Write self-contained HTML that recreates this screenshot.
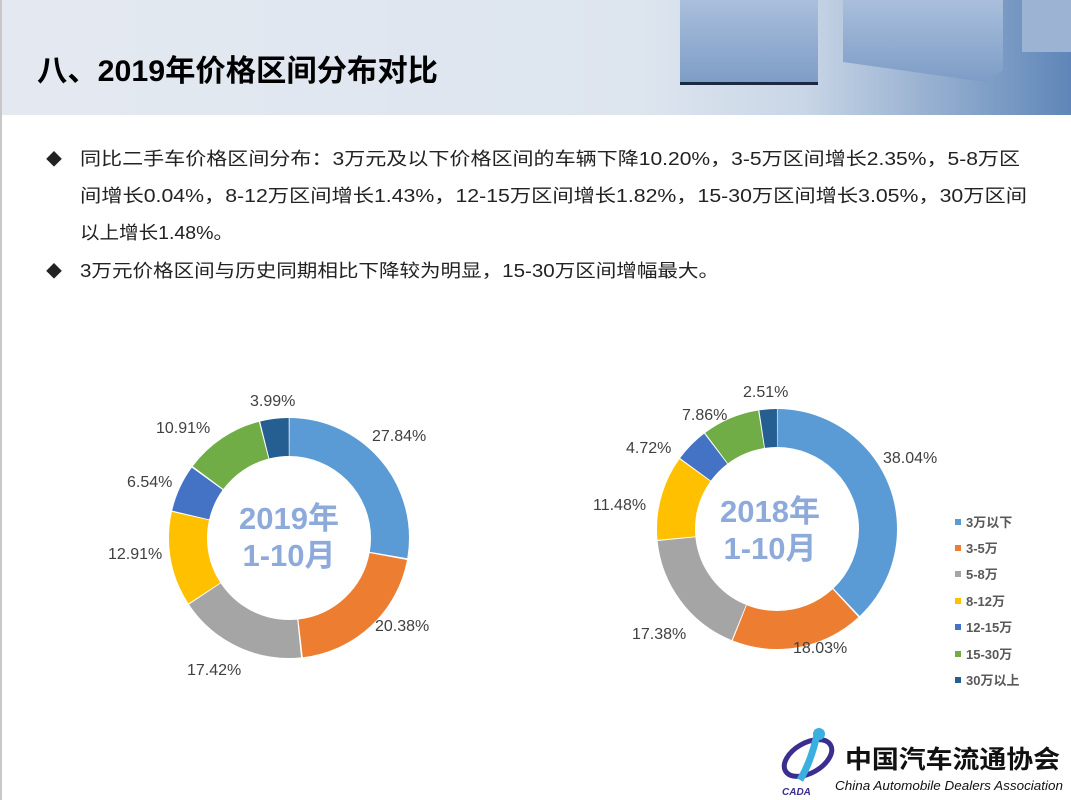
<!DOCTYPE html>
<html><head><meta charset="utf-8"><style>
html,body{margin:0;padding:0;background:#fff}
svg{display:block}
text{font-family:"Liberation Sans","Noto Sans CJK SC",sans-serif}
</style></head><body>
<svg width="1071" height="800" viewBox="0 0 1071 800" xmlns="http://www.w3.org/2000/svg">
<defs>
<linearGradient id="hd" x1="0" y1="0" x2="1" y2="0">
<stop offset="0" stop-color="#e4e9f1"/><stop offset="0.6" stop-color="#dde5ef"/><stop offset="0.75" stop-color="#c9d6e6"/><stop offset="1" stop-color="#5f86b8"/>
</linearGradient>
<linearGradient id="bx" x1="0" y1="0" x2="0" y2="1">
<stop offset="0" stop-color="#a9bfdc"/><stop offset="1" stop-color="#7d9cc6"/>
</linearGradient>
</defs>
<rect width="1071" height="800" fill="#fff"/>
<rect x="0" y="0" width="1071" height="115" fill="url(#hd)"/>
<rect x="680" y="0" width="138" height="84" fill="url(#bx)"/>
<rect x="680" y="82" width="138" height="3" fill="#1b2a40"/>
<path d="M843 0 L1003 0 L1003 70 L985 82 L843 62 Z" fill="url(#bx)"/>
<rect x="1022" y="0" width="49" height="52" fill="#9db3d3"/>
<rect x="0" y="0" width="2" height="800" fill="#c8c8c8"/>
<text x="37" y="81" font-size="30" font-weight="bold" fill="#000" textLength="401" lengthAdjust="spacingAndGlyphs">八、2019年价格区间分布对比</text>

<g font-size="18" fill="#222">
<text x="46" y="165" font-size="16">◆</text>
<text x="80" y="165" textLength="940" lengthAdjust="spacingAndGlyphs">同比二手车价格区间分布：3万元及以下价格区间的车辆下降10.20%，3-5万区间增长2.35%，5-8万区</text>
<text x="80" y="202" textLength="947" lengthAdjust="spacingAndGlyphs">间增长0.04%，8-12万区间增长1.43%，12-15万区间增长1.82%，15-30万区间增长3.05%，30万区间</text>
<text x="80" y="239" textLength="153" lengthAdjust="spacingAndGlyphs">以上增长1.48%。</text>
<text x="46" y="277" font-size="16">◆</text>
<text x="80" y="277" textLength="639" lengthAdjust="spacingAndGlyphs">3万元价格区间与历史同期相比下降较为明显，15-30万区间增幅最大。</text>
</g>

<g transform="translate(289,538) rotate(-90)" fill="none" stroke-width="38">
<circle r="101" stroke="#5B9BD5" stroke-dasharray="175.2 1000" stroke-dashoffset="-0.5"/>
<circle r="101" stroke="#ED7D31" stroke-dasharray="128.3 1000" stroke-dashoffset="-177.2"/>
<circle r="101" stroke="#A5A5A5" stroke-dasharray="109.5 1000" stroke-dashoffset="-307.0"/>
<circle r="101" stroke="#FFC000" stroke-dasharray="80.4 1000" stroke-dashoffset="-417.5"/>
<circle r="101" stroke="#4472C4" stroke-dasharray="40.0 1000" stroke-dashoffset="-499.0"/>
<circle r="101" stroke="#70AD47" stroke-dasharray="68.2 1000" stroke-dashoffset="-540.5"/>
<circle r="101" stroke="#255E91" stroke-dasharray="24.3 1000" stroke-dashoffset="-609.8"/>
</g>
<text x="289" y="529" text-anchor="middle" font-size="31" font-weight="bold" fill="#8eaadb">2019年</text>
<text x="289" y="566" text-anchor="middle" font-size="31" font-weight="bold" fill="#8eaadb">1-10月</text>
<g font-size="16" fill="#404040">
<text x="372" y="441">27.84%</text>
<text x="375" y="631">20.38%</text>
<text x="187" y="675">17.42%</text>
<text x="108" y="559">12.91%</text>
<text x="127" y="487">6.54%</text>
<text x="156" y="433">10.91%</text>
<text x="250" y="406">3.99%</text>
</g>

<g transform="translate(777,529) rotate(-90)" fill="none" stroke-width="38">
<circle r="101" stroke="#5B9BD5" stroke-dasharray="239.9 1000" stroke-dashoffset="-0.5"/>
<circle r="101" stroke="#ED7D31" stroke-dasharray="113.4 1000" stroke-dashoffset="-241.9"/>
<circle r="101" stroke="#A5A5A5" stroke-dasharray="109.3 1000" stroke-dashoffset="-356.3"/>
<circle r="101" stroke="#FFC000" stroke-dasharray="71.9 1000" stroke-dashoffset="-466.6"/>
<circle r="101" stroke="#4472C4" stroke-dasharray="29.0 1000" stroke-dashoffset="-539.5"/>
<circle r="101" stroke="#70AD47" stroke-dasharray="48.9 1000" stroke-dashoffset="-569.5"/>
<circle r="101" stroke="#255E91" stroke-dasharray="14.9 1000" stroke-dashoffset="-619.4"/>
</g>
<text x="770" y="522" text-anchor="middle" font-size="31" font-weight="bold" fill="#8eaadb">2018年</text>
<text x="770" y="559" text-anchor="middle" font-size="31" font-weight="bold" fill="#8eaadb">1-10月</text>
<g font-size="16" fill="#404040">
<text x="883" y="463">38.04%</text>
<text x="793" y="653">18.03%</text>
<text x="632" y="639">17.38%</text>
<text x="593" y="510">11.48%</text>
<text x="626" y="453">4.72%</text>
<text x="682" y="420">7.86%</text>
<text x="743" y="397">2.51%</text>
</g>

<g font-size="13" font-weight="bold" fill="#595959">
<rect x="955" y="519" width="6" height="6" fill="#5B9BD5"/><text x="966" y="527">3万以下</text>
<rect x="955" y="545" width="6" height="6" fill="#ED7D31"/><text x="966" y="553">3-5万</text>
<rect x="955" y="571" width="6" height="6" fill="#A5A5A5"/><text x="966" y="579">5-8万</text>
<rect x="955" y="598" width="6" height="6" fill="#FFC000"/><text x="966" y="606">8-12万</text>
<rect x="955" y="624" width="6" height="6" fill="#4472C4"/><text x="966" y="632">12-15万</text>
<rect x="955" y="651" width="6" height="6" fill="#70AD47"/><text x="966" y="659">15-30万</text>
<rect x="955" y="677" width="6" height="6" fill="#255E91"/><text x="966" y="685">30万以上</text>
</g>

<ellipse cx="808" cy="758" rx="26" ry="15" fill="none" stroke="#3a2f8f" stroke-width="5" transform="rotate(-30 808 758)"/>
<path d="M818 730 Q812 760 800 780" stroke="#3bb0e0" stroke-width="7" fill="none"/>
<circle cx="819" cy="734" r="6" fill="#3bb0e0"/>
<text x="782" y="795" font-size="10" font-weight="bold" font-style="italic" fill="#3a2f8f">CADA</text>
<text x="845" y="768" font-size="25" font-weight="bold" fill="#111" textLength="215" lengthAdjust="spacingAndGlyphs" font-family="Liberation Serif,Noto Serif CJK SC,serif">中国汽车流通协会</text>
<text x="835" y="790" font-size="13" font-style="italic" fill="#111" textLength="228" lengthAdjust="spacingAndGlyphs" font-family="Liberation Serif,serif">China Automobile Dealers Association</text>
</svg>
</body></html>
